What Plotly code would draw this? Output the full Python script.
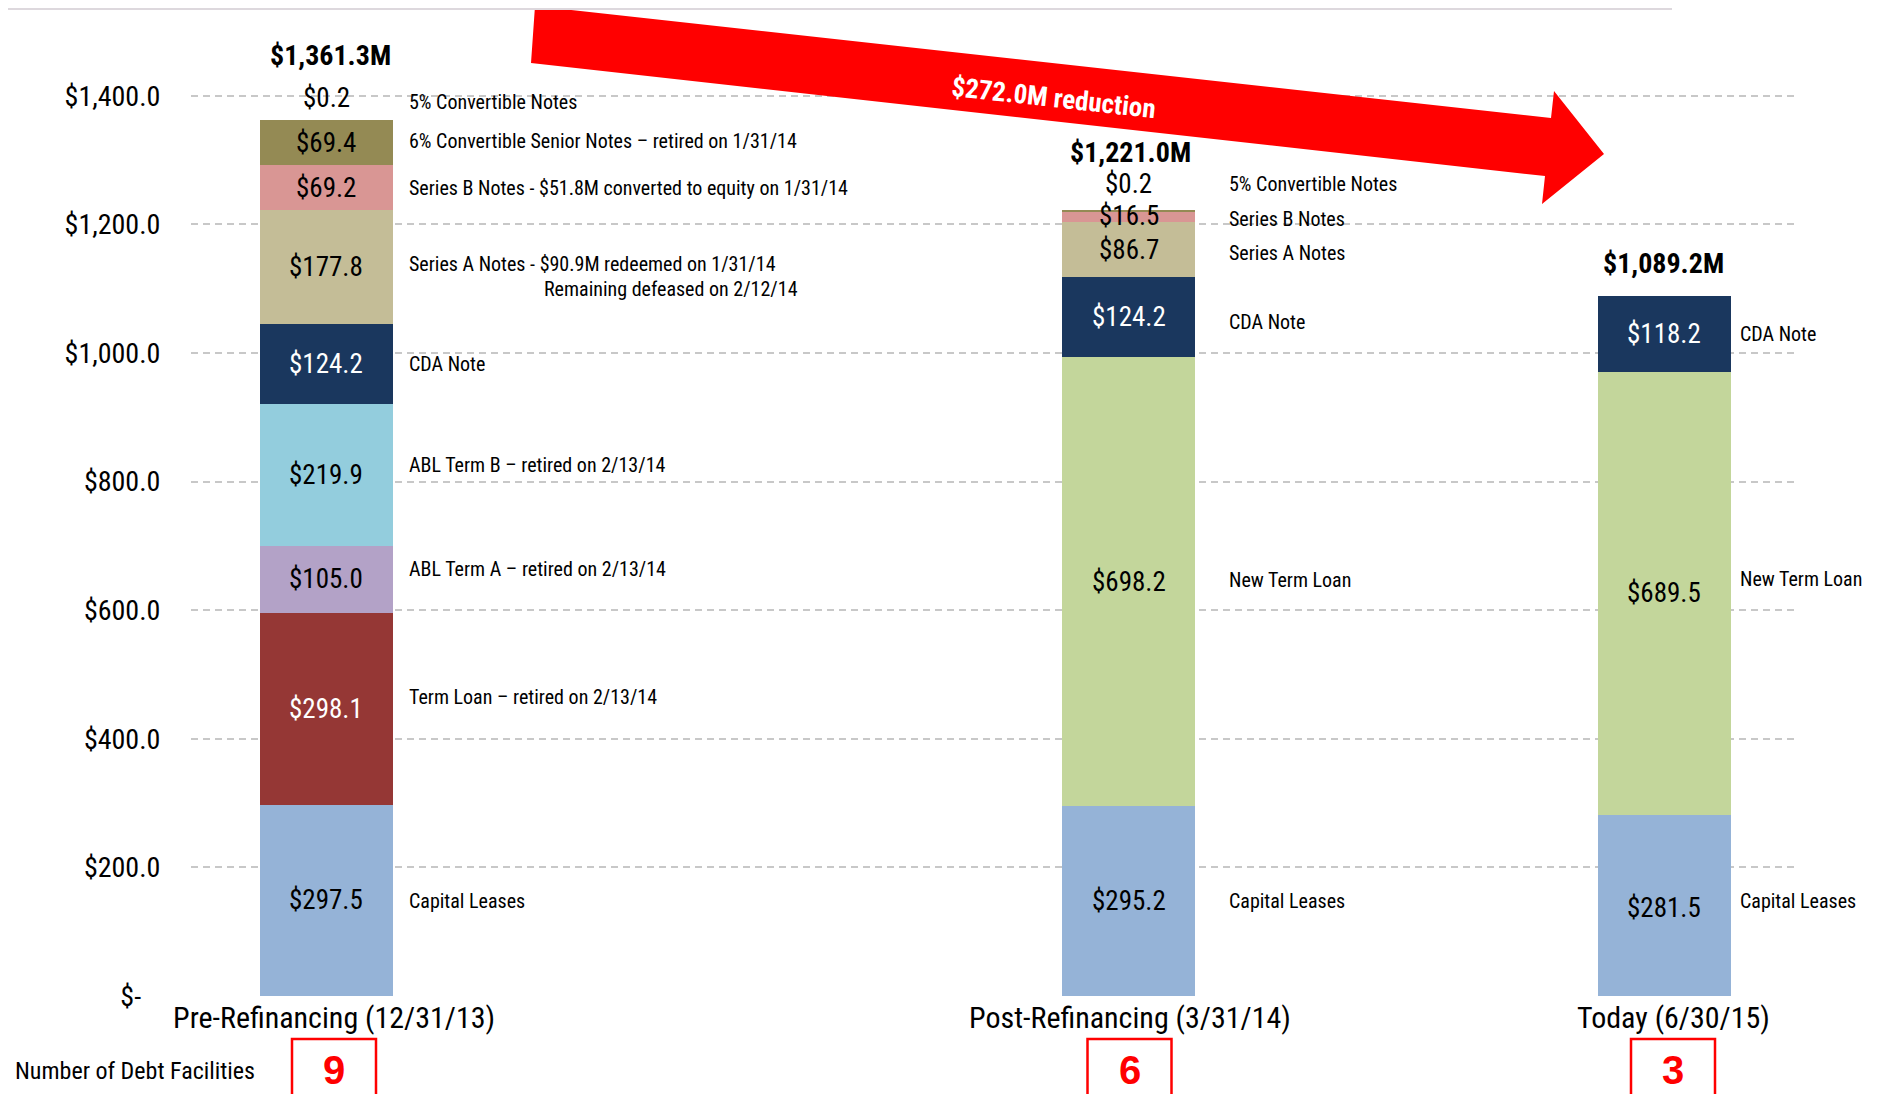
import plotly.graph_objects as go

# ---------------- data ----------------
categories = ["Pre-Refinancing (12/31/13)", "Post-Refinancing (3/31/14)", "Today (6/30/15)"]
facility_counts = ["9", "6", "3"]

series_names = ["Capital Leases", "Term Loan", "New Term Loan", "ABL Term A", "ABL Term B",
                "CDA Note", "Series A Notes", "Series B Notes",
                "6% Convertible Senior Notes", "5% Convertible Notes"]
capital_leases = [297.5, 295.2, 281.5]
term_loan = [298.1, None, None]
new_term_loan = [None, 698.2, 689.5]
abl_term_a = [105.0, None, None]
abl_term_b = [219.9, None, None]
cda_note = [124.2, 124.2, 118.2]
series_a = [177.8, 86.7, None]
series_b = [69.2, 16.5, None]
conv6 = [69.4, None, None]
conv5 = [0.2, 0.2, None]
totals = [1361.3, 1221.0, 1089.2]
reduction = 272.0

side_labels = {
    0: ["Capital Leases", "Term Loan – retired on 2/13/14", None, "ABL Term A – retired on 2/13/14",
        "ABL Term B – retired on 2/13/14", "CDA Note",
        "Series A Notes - $90.9M redeemed on 1/31/14",
        "Series B Notes - $51.8M converted to equity on 1/31/14",
        "6% Convertible Senior Notes – retired on 1/31/14", "5% Convertible Notes"],
    1: ["Capital Leases", None, "New Term Loan", None, None, "CDA Note", "Series A Notes",
        "Series B Notes", None, "5% Convertible Notes"],
    2: ["Capital Leases", None, "New Term Loan", None, None, "CDA Note", None, None, None, None],
}
series_a_note2 = "Remaining defeased on 2/12/14"

y_tickvals = [0, 200, 400, 600, 800, 1000, 1200, 1400]
y_ticktext = ["$-\u00a0\u00a0\u00a0", "$200.0", "$400.0", "$600.0", "$800.0", "$1,000.0", "$1,200.0", "$1,400.0"]

# ---------------- styling / layout constants ----------------
colors = ["#95B3D7", "#953735", "#C3D69B", "#B3A2C7", "#93CDDD", "#1A375E",
          "#C4BD97", "#D99694", "#948A54", "#948A54"]
label_colors = ["#000000", "#FFFFFF", "#000000", "#000000", "#000000", "#FFFFFF",
                "#000000", "#000000", "#000000", "#000000"]
FONT = "Liberation Sans Narrow, Arial Narrow, Roboto Condensed, DejaVu Sans Condensed, sans-serif"

OFF = 8                     # page body margin
W, H = 1877 - OFF, 1094 - OFF
PLOT_L, PLOT_R, PLOT_T, PLOT_B = 191, 1798, 20, 996     # page pixels of plot area
ML, MT = PLOT_L - OFF, PLOT_T - OFF
MR = W - (PLOT_R - OFF)
MB = H - (PLOT_B - OFF)
PLOT_W = PLOT_R - PLOT_L
PLOT_H = PLOT_B - PLOT_T
PX_PER_UNIT = 0.643
Y_MAX = PLOT_H / PX_PER_UNIT
X_POS = [326, 1128.5, 1664]          # category positions on the pixel-scaled x axis
BAR_W = 133
label_gap = [14, 32, 7]
cat_xshift = [8, 1, 9]
total_yshift = [65, 58, 32]

val_shift = {(0, 9): 23, (1, 9): 27, (2, 0): -2}
side_shift = {(0, 9): 19, (0, 8): 2, (0, 6): 3, (0, 4): 10, (0, 3): 10, (0, 1): 12, (0, 0): -1,
              (1, 9): 27, (1, 7): -3, (1, 6): -3, (1, 5): -5, (1, 2): 2,
              (2, 2): 14, (2, 0): 5}

series_values = [capital_leases, term_loan, new_term_loan, abl_term_a, abl_term_b,
                 cda_note, series_a, series_b, conv6, conv5]


def py(pix):
    """page pixel y -> paper y"""
    return (PLOT_B - pix) / PLOT_H


def px(pix):
    """page pixel x -> paper x"""
    return (pix - PLOT_L) / PLOT_W


fig = go.Figure()
for name, vals, col in zip(series_names, series_values, colors):
    fig.add_trace(go.Bar(x=X_POS, y=vals, name=name, width=BAR_W,
                         marker=dict(color=col, line=dict(width=0)),
                         hoverinfo="name+y"))

annotations = []
for ci in range(3):
    base = 0.0
    for si, vals in enumerate(series_values):
        v = vals[ci]
        if v is None:
            continue
        center = base + v / 2
        annotations.append(dict(x=X_POS[ci], y=center, xref="x", yref="y", text=f"${v:,.1f}",
                                showarrow=False, yshift=val_shift.get((ci, si), 0),
                                xanchor="center", yanchor="middle",
                                font=dict(family=FONT, size=27, color=label_colors[si] if v > 5 else "#000000")))
        lab = side_labels[ci][si]
        if lab:
            annotations.append(dict(x=X_POS[ci] + BAR_W / 2 + label_gap[ci], y=center, xref="x", yref="y",
                                    text=lab, showarrow=False, xanchor="left", yanchor="middle",
                                    yshift=side_shift.get((ci, si), 0),
                                    font=dict(family=FONT, size=20, color="#000000")))
            if ci == 0 and si == 6:
                annotations.append(dict(x=542, y=center, xref="x", yref="y", text=series_a_note2,
                                        showarrow=False, xanchor="left", yanchor="middle", yshift=-22,
                                        font=dict(family=FONT, size=20, color="#000000")))
        base += v
    annotations.append(dict(x=X_POS[ci], y=totals[ci], xref="x", yref="y", text=f"<b>${totals[ci]:,.1f}M</b>",
                            showarrow=False, yshift=total_yshift[ci], xshift=[4, 2, -1][ci],
                            xanchor="center", yanchor="middle",
                            font=dict(family=FONT, size=28, color="#000000")))
    annotations.append(dict(x=X_POS[ci], y=0, xref="x", yref="paper", text=categories[ci],
                            showarrow=False, xshift=cat_xshift[ci], yshift=-21,
                            xanchor="center", yanchor="middle",
                            font=dict(family=FONT, size=30, color="#000000")))
    annotations.append(dict(x=X_POS[ci], y=0, xref="x", yref="paper", text=f"<b>{facility_counts[ci]}</b>",
                            showarrow=False, xshift=cat_xshift[ci], yshift=-74,
                            xanchor="center", yanchor="middle",
                            font=dict(family="Liberation Sans, Arial, sans-serif", size=40, color="#FF0000")))

annotations.append(dict(x=px(13), y=py(1071), xref="paper", yref="paper", text="Number of Debt Facilities",
                        showarrow=False, xanchor="left", yanchor="middle",
                        font=dict(family=FONT, size=24, color="#000000")))

shapes = []
for ci in range(3):
    cx = X_POS[ci] + cat_xshift[ci]
    shapes.append(dict(type="rect", xref="x", yref="paper", x0=cx - 42, x1=cx + 42,
                       y0=py(1120), y1=py(1039), line=dict(color="#FF0000", width=2.5),
                       fillcolor="rgba(0,0,0,0)", layer="above"))

# reduction arrow (page-pixel geometry)
arrow_pts = [(535, 6), (1551, 118), (1554, 91), (1604, 154), (1542, 204), (1545, 176), (531, 63)]
path = "M " + " L ".join(f"{x},{py(y)}" for x, y in arrow_pts) + " Z"
shapes.append(dict(type="path", xref="x", yref="paper", path=path, fillcolor="#FF0000",
                   line=dict(width=0), layer="above"))
shapes.append(dict(type="line", xref="paper", yref="paper", x0=px(OFF), x1=px(1672), y0=py(OFF + 1), y1=py(OFF + 1),
                   line=dict(color="#DDD8DD", width=2), layer="above"))

annotations.append(dict(x=1053, y=py(98), xref="x", yref="paper",
                        text=f"<b>${reduction:,.1f}M reduction</b>", showarrow=False, textangle=6.3,
                        xanchor="center", yanchor="middle",
                        font=dict(family=FONT, size=27, color="#FFFFFF")))

fig.update_layout(
    width=W, height=H, margin=dict(l=ML, r=MR, t=MT, b=MB, pad=0),
    barmode="stack", bargap=0, showlegend=False,
    plot_bgcolor="white", paper_bgcolor="white",
    font=dict(family=FONT, color="#000000"),
    xaxis=dict(range=[PLOT_L, PLOT_R], showgrid=False, zeroline=False, showticklabels=False,
               showline=False, fixedrange=True),
    yaxis=dict(range=[0, Y_MAX], tickvals=y_tickvals, ticktext=y_ticktext,
               showgrid=True, gridcolor="#C8C8C8", gridwidth=2, griddash="7px,5px",
               zeroline=False, showline=False, ticks="outside", ticklen=24, tickcolor="rgba(0,0,0,0)",
               tickfont=dict(family=FONT, size=28, color="#000000")),
    annotations=annotations, shapes=shapes,
)

fig.write_html("out.html")
